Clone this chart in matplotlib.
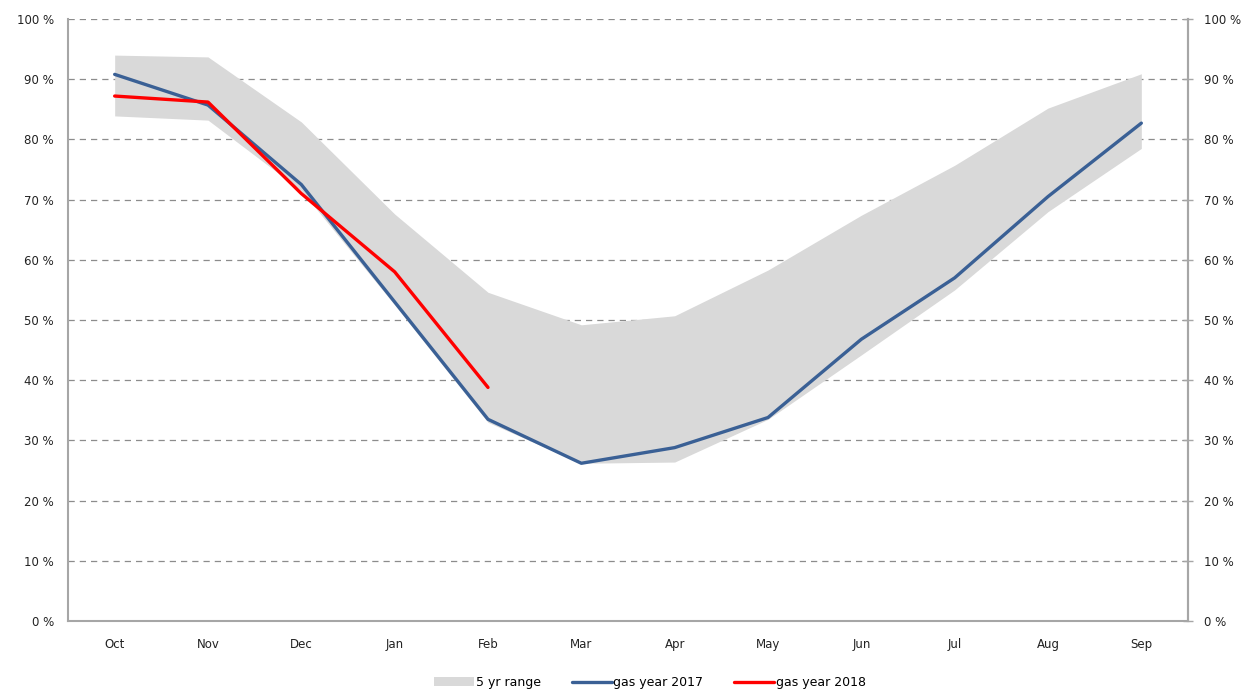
import matplotlib
matplotlib.use("Agg")
import matplotlib.pyplot as plt
import numpy as np

months = ["Oct", "Nov", "Dec", "Jan", "Feb", "Mar", "Apr", "May", "Jun", "Jul", "Aug", "Sep"]
range_high = [94.0, 93.7, 82.9, 67.6, 54.6, 49.2, 50.7, 58.3, 67.4, 75.7, 85.2, 90.9]
range_low = [83.9, 83.2, 71.5, 52.5, 33.0, 26.2, 26.4, 33.5, 44.2, 55.0, 68.0, 78.5]
gas_2017 = [90.8, 85.7, 72.5, 53.0, 33.5, 26.2, 28.8, 33.8, 46.8, 57.0, 70.5, 82.7]
gas_2018 = [87.2, 86.2, 71.0, 58.0, 38.8]
yticks = list(range(0, 101, 10))

x = np.arange(len(months))
fig = plt.figure(figsize=(12.5, 6.93), dpi=100)
ax = fig.add_axes([0.0544, 0.1039, 0.896, 0.8687])

# gridlines first so the grey band hides them
for v in yticks[1:]:
    ax.axhline(v, color="#8c8c8c", lw=0.9, ls=(0, (5, 4)), zorder=0)
band = ax.fill_between(x, range_low, range_high, color="#d9d9d9", lw=0, label="5 yr range", zorder=1)
l17, = ax.plot(x, gas_2017, color="#3a6095", lw=2.4, label="gas year 2017", solid_capstyle="round", zorder=2)
l18, = ax.plot(x[:len(gas_2018)], gas_2018, color="#ff0000", lw=2.4, label="gas year 2018", solid_capstyle="round", zorder=3)

ax.set_xlim(-0.5, len(months) - 0.5)
ax.set_ylim(0, 100)
ax.set_xticks(x)
ax.set_xticklabels(months, fontsize=8.5, color="#222222")
ax.set_yticks(yticks)
ax.set_yticklabels([f"{v} %" for v in yticks], fontsize=8.5, color="#222222")
ax.tick_params(axis="x", length=0, pad=12)
ax.tick_params(axis="y", length=0, pad=10)

for s in ["left", "bottom", "right"]:
    ax.spines[s].set_color("#a6a6a6")
    ax.spines[s].set_linewidth(1.5)
ax.spines["top"].set_visible(False)

ax2 = ax.twinx()
ax2.set_ylim(0, 100)
ax2.set_yticks(yticks)
ax2.set_yticklabels([f"{v} %" for v in yticks], fontsize=8.5, color="#222222")
ax2.tick_params(axis="y", direction="inout", length=7, color="#a6a6a6", width=1, pad=8)
for s in ["left", "bottom", "top"]:
    ax2.spines[s].set_visible(False)
ax2.spines["right"].set_color("#a6a6a6")
ax2.spines["right"].set_linewidth(1.5)

fig.legend(handles=[band, l17, l18], loc="center", bbox_to_anchor=(0.52, 0.015),
           ncol=3, frameon=False, fontsize=9, handlelength=3.2, handletextpad=0.1,
           columnspacing=2.5)

fig.savefig("out.png", dpi=100)
